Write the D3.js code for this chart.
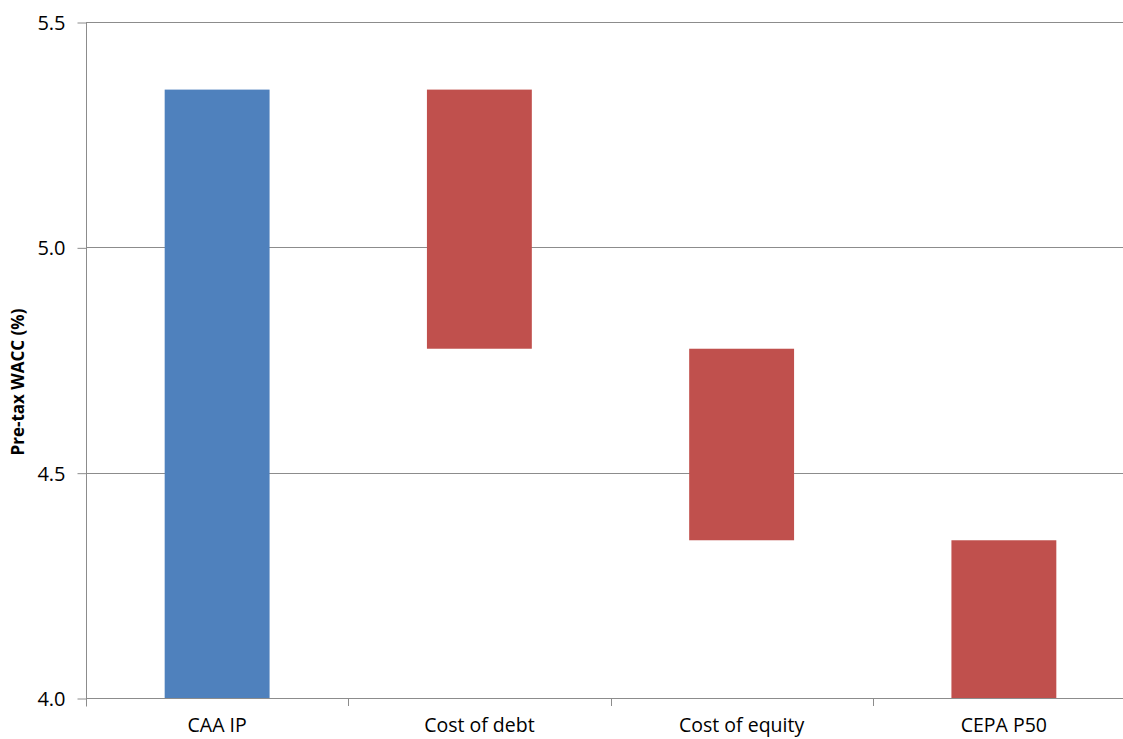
<!DOCTYPE html>
<html>
<head>
<meta charset="utf-8">
<script src="https://cdn.jsdelivr.net/npm/d3@7"></script>
<style>
  html, body { margin: 0; padding: 0; background: #fff; }
  svg { display: block; }
  text { font-family: "Open Sans", "Liberation Sans", sans-serif; fill: #000; }
</style>
</head>
<body>
<svg id="chart" width="1123" height="739"></svg>
<script>
// Waterfall steps: pre-tax WACC bridge (percent)
const categories = ["CAA IP", "Cost of debt", "Cost of equity", "CEPA P50"];
const barStart = [4.0, 5.35, 4.775, 4.0];
const barEnd   = [5.35, 4.775, 4.35, 4.35];
const barKind  = ["total", "step", "step", "total2"];
const yTicks   = [4.0, 4.5, 5.0, 5.5];
const yTitle   = "Pre-tax WACC (%)";

const svg = d3.select("#chart");
const plotLeft = 86, plotRight = 1135, plotTop = 22, plotBottom = 698;

const x = d3.scaleBand().domain(categories).range([plotLeft, plotRight]).padding(0);
const y = d3.scaleLinear().domain([4.0, 5.5]).range([plotBottom, plotTop]);

const gridColor = "#8c8c8c";
const barFill = { total: "#4f81bd", step: "#c0504d", total2: "#c0504d" };

// horizontal gridlines
svg.append("g")
  .selectAll("line")
  .data(yTicks)
  .join("line")
  .attr("x1", plotLeft).attr("x2", plotRight)
  .attr("y1", d => Math.round(y(d)) + 0.5).attr("y2", d => Math.round(y(d)) + 0.5)
  .attr("stroke", gridColor).attr("stroke-width", 1);

// bars
const barW = x.bandwidth() * 0.4;
svg.append("g")
  .selectAll("rect")
  .data(categories)
  .join("rect")
  .attr("x", (d) => x(d) + (x.bandwidth() - barW) / 2)
  .attr("width", barW)
  .attr("y", (d, i) => y(Math.max(barStart[i], barEnd[i])))
  .attr("height", (d, i) => Math.abs(y(barStart[i]) - y(barEnd[i])))
  .attr("fill", (d, i) => barFill[barKind[i]]);

// y axis
const yAxis = d3.axisLeft(y).tickValues(yTicks).tickFormat(d3.format(".1f")).tickSize(9).tickPadding(12);
const gy = svg.append("g").attr("transform", `translate(${plotLeft + 0.5},0.5)`).call(yAxis);
gy.select(".domain").attr("stroke", gridColor).attr("d", `M0,${plotTop}V${plotBottom + 8}`);
gy.selectAll(".tick line").attr("stroke", gridColor);
gy.selectAll(".tick text")
  .style("font-size", "20px")
  .attr("dy", "0.35em");

// x axis (category separators and labels)
const xAxis = d3.axisBottom(x).tickSize(0).tickPadding(20);
const gx = svg.append("g").attr("transform", `translate(0,${plotBottom + 0.5})`).call(xAxis);
gx.select(".domain").remove();
gx.selectAll(".tick text").style("font-size", "19.5px");
svg.append("g")
  .selectAll("line")
  .data(categories.slice(1))
  .join("line")
  .attr("x1", d => Math.round(x(d)) + 0.5).attr("x2", d => Math.round(x(d)) + 0.5)
  .attr("y1", plotBottom).attr("y2", plotBottom + 8)
  .attr("stroke", gridColor);

// y axis title
svg.append("text")
  .attr("transform", `translate(24,${(plotTop + plotBottom) / 2 + 22}) rotate(-90)`)
  .attr("text-anchor", "middle")
  .style("font-size", "17px")
  .style("font-weight", "bold")
  .text(yTitle);
</script>
</body>
</html>
